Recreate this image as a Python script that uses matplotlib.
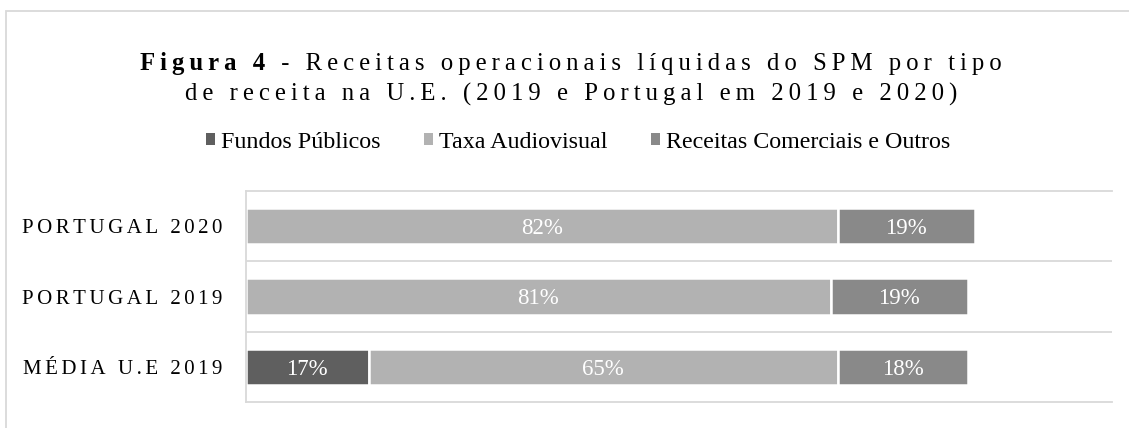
import matplotlib
matplotlib.use('Agg')
import matplotlib.pyplot as plt
import numpy as np
from matplotlib.patches import Patch, Rectangle

# dados
categorias = ['MÉDIA U.E 2019', 'PORTUGAL 2019', 'PORTUGAL 2020']
series = ['Fundos Públicos', 'Taxa Audiovisual', 'Receitas Comerciais e Outros']
fundos_publicos = [17, 0, 0]
taxa_audiovisual = [65, 81, 82]
receitas_comerciais = [18, 19, 19]
cores = ['#5f5f5f', '#b2b2b2', '#898989']

titulo_negrito = 'Figura 4'
titulo_linha1 = ' - Receitas operacionais líquidas do SPM por tipo'
titulo_linha2 = 'de receita na U.E. (2019 e Portugal em 2019 e 2020)'


def espacar(txt, sep='\u2009'):
    # simula o espaçamento entre caracteres do Excel
    return sep.join(txt)


plt.rcParams['font.family'] = ['Liberation Serif', 'DejaVu Serif']

W, H = 1129, 428
fig = plt.figure(figsize=(W / 100, H / 100), dpi=100)
ax = fig.add_axes([246 / W, 1 - 402 / H, (1112 - 246) / W, (402 - 191) / H])

y = np.arange(len(categorias))
esquerda = np.zeros(len(categorias))
for nome, valores, cor in zip(series, [fundos_publicos, taxa_audiovisual, receitas_comerciais], cores):
    valores = np.array(valores, dtype=float)
    barras = ax.barh(y, valores, left=esquerda, height=0.52, color=cor,
                     edgecolor='white', linewidth=1.8, label=nome)
    for b, v in zip(barras, valores):
        if v == 0:
            b.set_visible(False)
            continue
        ax.text(b.get_x() + b.get_width() / 2, b.get_y() + b.get_height() / 2,
                f'{v:.0f}%', ha='center', va='center_baseline', color='white', fontsize=16.5)
    esquerda += valores

ax.set_xlim(0, 120)
ax.set_ylim(-0.5, 2.5)
ax.set_xticks([])
ax.set_yticks(y, [espacar(c, '\u2006') for c in categorias], fontsize=15)
ax.set_yticks([0.5, 1.5], minor=True)
ax.tick_params(axis='y', which='both', length=0, pad=17, colors='#000000')
ax.grid(which='minor', axis='y', color='#d9d9d9', linewidth=1.3)
for lado in ['top', 'bottom', 'left']:
    ax.spines[lado].set_color('#d9d9d9')
    ax.spines[lado].set_linewidth(1.3)
ax.spines['right'].set_visible(False)

# legenda
handles = [Patch(facecolor=c, edgecolor='none') for c in cores]
fig.legend(handles, series, loc='center', bbox_to_anchor=(578 / W, 1 - 142 / H), ncol=3,
           frameon=False, fontsize=17.3, handlelength=0.38, handleheight=0.38,
           handletextpad=0.25, columnspacing=1.8)

# título em duas linhas, com "Figura 4" a negrito
r = fig.canvas.get_renderer()
cx = 571
t1 = fig.text(0, 1 - 70 / H, espacar(titulo_negrito), fontsize=17.8, fontweight='bold', va='baseline')
t2 = fig.text(0, 1 - 70 / H, '\u2009' + espacar(titulo_linha1), fontsize=17.8, va='baseline')
w1 = t1.get_window_extent(r).width
w2 = t2.get_window_extent(r).width
x0 = cx - (w1 + w2) / 2
t1.set_x(x0 / W)
t2.set_x((x0 + w1) / W)
fig.text(cx / W, 1 - 101 / H, espacar(titulo_linha2), fontsize=17.8, ha='center', va='baseline')

# moldura exterior
fig.patches.append(Rectangle((6 / W, -0.1), 1.2, 1.1 - 11 / H, transform=fig.transFigure,
                             fill=False, edgecolor='#d9d9d9', linewidth=1.3))

fig.savefig('out.png', dpi=100)
